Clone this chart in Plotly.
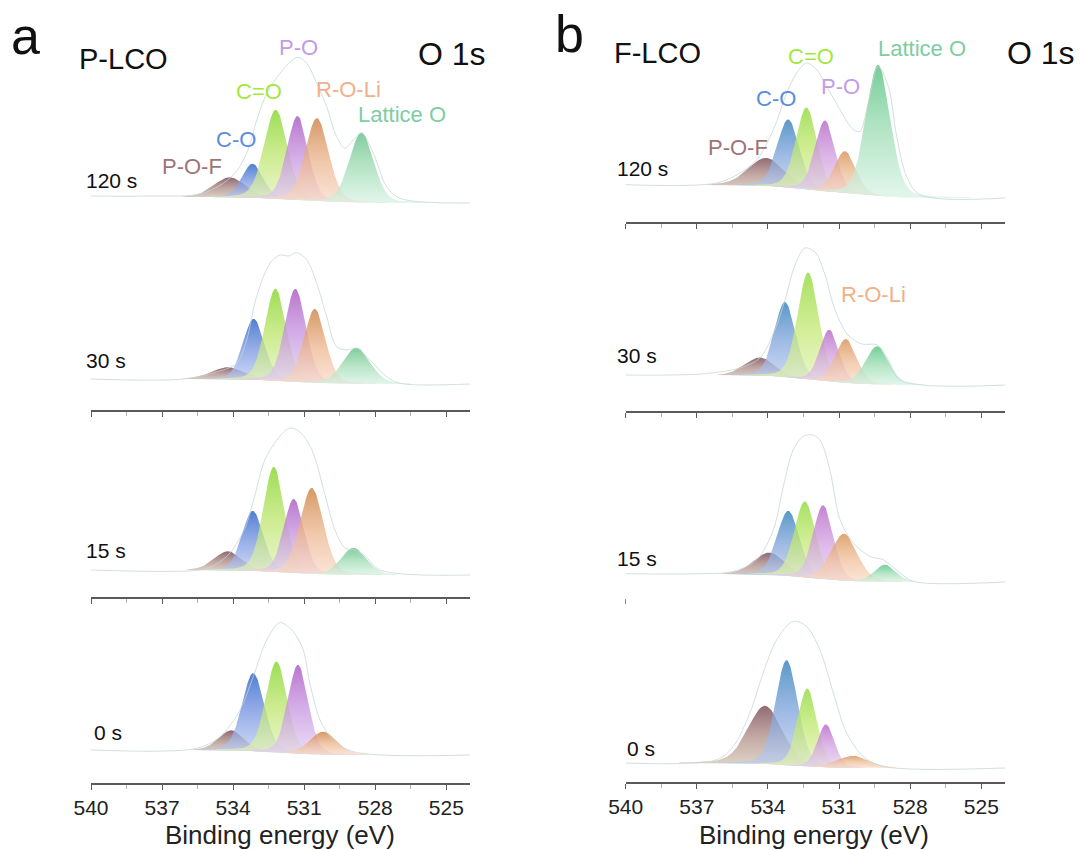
import numpy as np
import plotly.graph_objects as go

FONT = "Liberation Sans"
W, H = 1081, 850

PEAKS = ["P-O-F", "C-O", "C=O", "P-O", "R-O-Li", "Lattice O"]
TIMES = ["120 s", "30 s", "15 s", "0 s"]
TICKS = [540, 537, 534, 531, 528, 525]
MINOR_TICKS = [538.5, 535.5, 532.5, 529.5, 526.5]
LORENTZ_FRACTION = 0.2  # Gaussian-Lorentzian mixing of the fitted line shapes

# ---- P-LCO (panel a): fitted O 1s components, rows 120 s, 30 s, 15 s, 0 s ----
a_center = [
    [534.14, 533.18, 532.20, 531.28, 530.46, 528.58],
    [534.21, 533.13, 532.21, 531.37, 530.55, 528.79],
    [534.22, 533.17, 532.28, 531.44, 530.68, 528.91],
    [534.07, 533.15, 532.17, 531.26, 530.20, None],
]
a_height = [
    [20, 34, 89, 84, 83, 70],
    [12, 61, 92, 93, 74, 36],
    [19, 60, 105, 74, 86, 27],
    [20, 78, 91, 89, 23, None],
]
a_fwhm = [
    [1.55, 1.05, 1.15, 1.05, 1.15, 1.20],
    [1.65, 1.05, 1.05, 1.05, 1.05, 1.35],
    [1.35, 1.05, 1.05, 1.00, 1.15, 1.25],
    [1.25, 1.10, 1.05, 1.00, 1.35, None],
]
a_bg_step = [6, 5, 5, 5]

# measured envelopes (binding energy, intensity)
a_env_E = [
    [540.0, 537.51, 535.26, 533.99, 533.43, 533.00, 532.58, 532.02, 531.46, 531.25,
     530.89, 530.47, 530.05, 529.63, 529.28, 528.93, 528.57, 528.08, 527.52, 526.96, 524.0],
    [540.0, 536.24, 534.85, 533.85, 533.43, 533.01, 532.44, 532.02, 531.67, 531.32,
     530.89, 530.47, 530.05, 529.63, 529.21, 528.78, 528.22, 527.52, 526.96, 524.0],
    [540.0, 535.40, 534.77, 534.13, 533.50, 533.08, 532.66, 532.02, 531.60, 531.18,
     530.67, 530.12, 529.70, 529.28, 528.86, 528.43, 527.80, 524.0],
    [540.0, 535.54, 534.55, 533.71, 533.15, 532.58, 532.02, 531.46, 531.04, 530.76,
     530.33, 529.77, 528.93, 524.0],
]
a_env_I = [
    [7, 7, 9.7, 28, 49.7, 83, 109.7, 129.7, 143.7, 145.7,
     139.7, 119.7, 96.3, 66.3, 54.7, 63, 69.7, 49.7, 16.3, 4.7, 0],
    [5, 4.7, 11, 20.7, 44, 87.3, 121, 129, 128, 131.3,
     124, 100.7, 67.3, 37.3, 34, 35.7, 24, 7.3, 0.7, 0],
    [5, 5, 10, 22, 47, 80, 115, 139, 147, 143,
     125, 80, 45, 27, 25, 19, 5, 0],
    [5, 6.7, 18.3, 45, 78.3, 115, 132.3, 123.3, 105, 71.7,
     35, 15, 3.3, 0],
]

# ---- F-LCO (panel b) ----
b_center = [
    [534.08, 533.14, 532.37, 531.59, 530.75, 529.35],
    [534.34, 533.28, 532.30, 531.41, 530.71, 529.39],
    [533.94, 533.14, 532.44, 531.67, 530.79, 529.06],
    [534.12, 533.21, 532.34, 531.55, 530.40, None],
]
b_height = [
    [28, 68, 82, 71, 42, 131],
    [18, 75, 107, 52, 44, 38],
    [22, 65, 76, 74, 47, 17],
    [58, 105, 78, 43, 12, None],
]
b_fwhm = [
    [1.75, 1.10, 1.05, 1.00, 1.05, 1.20],
    [1.45, 1.05, 1.05, 0.95, 1.05, 1.15],
    [1.55, 1.10, 1.05, 1.00, 1.30, 1.05],
    [1.70, 1.10, 0.95, 0.85, 1.55, None],
]
b_bg_step = [13, 10, 8, 5]

b_env_E = [
    [540.0, 536.16, 535.18, 534.47, 533.77, 533.21, 532.79, 532.37, 531.94, 531.52,
     530.96, 530.40, 530.12, 529.77, 529.35, 528.92, 528.57, 528.15, 527.59, 524.0],
    [540.0, 536.87, 535.18, 534.34, 533.71, 533.28, 532.86, 532.44, 532.01, 531.59,
     531.17, 530.62, 530.03, 529.38, 528.92, 528.43, 524.0],
    [540.0, 536.87, 535.46, 534.47, 533.77, 533.35, 532.93, 532.51, 532.16, 531.81,
     531.39, 530.96, 530.40, 529.70, 529.14, 528.43, 527.87, 524.0],
    [540.0, 536.16, 535.46, 534.76, 534.20, 533.63, 532.93, 532.37, 531.81, 531.24,
     530.68, 529.98, 529.14, 524.0],
]
b_env_I = [
    [13.3, 15, 25, 38.3, 68.3, 105, 125, 135, 128.3, 111.6,
     88.3, 68.3, 66.6, 95, 131.6, 111.6, 61.6, 21.6, 3.3, 0],
    [10, 11, 17, 27, 55, 85, 120, 137, 133, 110,
     75, 50, 41, 40, 25, 5, 0],
    [8.3, 8.3, 10.6, 22.3, 52.3, 95.6, 132.3, 145.6, 147.3, 142.3,
     112.3, 62.3, 39, 25.6, 22.3, 9, 0.6, 0],
    [5, 8.3, 21.6, 55, 95, 128.3, 146.6, 141.6, 118.3, 75,
     35, 11.6, 1.6, 0],
]

# component colours
LABEL_COL = {
    "P-O-F": "#A07474", "C-O": "#5A8CDC", "C=O": "#A3E83F",
    "P-O": "#C39BE6", "R-O-Li": "#F0B08A", "Lattice O": "#7ECDA2",
}
# (top, middle, bottom) of each gradient fill
FILL_COL = {
    "a": {
        "P-O-F": ("rgba(120,78,88,0.85)", "rgba(170,135,130,0.75)", "rgba(215,200,180,0.75)"),
        "C-O": ("rgba(50,105,200,0.85)", "rgba(120,150,225,0.75)", "rgba(190,205,242,0.72)"),
        "C=O": ("rgba(138,215,55,0.85)", "rgba(190,230,110,0.75)", "rgba(228,242,185,0.72)"),
        "P-O": ("rgba(172,95,195,0.85)", "rgba(200,150,225,0.75)", "rgba(225,208,242,0.72)"),
        "R-O-Li": ("rgba(205,135,75,0.85)", "rgba(235,180,140,0.75)", "rgba(250,218,200,0.72)"),
        "Lattice O": ("rgba(105,195,140,0.85)", "rgba(160,220,180,0.75)", "rgba(215,242,228,0.72)"),
    },
    "b": {
        "P-O-F": ("rgba(125,80,92,0.85)", "rgba(175,140,135,0.75)", "rgba(215,202,180,0.75)"),
        "C-O": ("rgba(60,135,190,0.85)", "rgba(130,165,220,0.75)", "rgba(190,207,242,0.72)"),
        "C=O": ("rgba(150,220,70,0.85)", "rgba(195,232,115,0.75)", "rgba(230,242,185,0.72)"),
        "P-O": ("rgba(185,110,200,0.85)", "rgba(210,160,225,0.75)", "rgba(228,208,242,0.72)"),
        "R-O-Li": ("rgba(215,150,90,0.85)", "rgba(238,188,150,0.75)", "rgba(250,220,200,0.72)"),
        "Lattice O": ("rgba(100,200,140,0.9)", "rgba(160,222,182,0.78)", "rgba(215,243,228,0.72)"),
    },
}

# row placement (pixel positions of each row's axis line)
AXIS_Y = {"a": [226, 410, 597, 783], "b": [222, 411, 597, 782]}
BASE_OFF = {"a": [23, 26, 22, 28], "b": [24, 26, 15, 14]}
X_DOM = {"a": (91, 470), "b": (625.7, 1005)}
ROW_H = 186

E = np.linspace(524, 540, 1281)


def line_shape(c, h, w):
    g = np.exp(-4 * np.log(2) * (E - c) ** 2 / w ** 2)
    lo = 1.0 / (1.0 + 4 * (E - c) ** 2 / w ** 2)
    return h * ((1 - LORENTZ_FRACTION) * g + LORENTZ_FRACTION * lo)


fig = go.Figure()
layout = {}
idx = 0
panels = [
    ("a", a_center, a_height, a_fwhm, a_bg_step, a_env_E, a_env_I),
    ("b", b_center, b_height, b_fwhm, b_bg_step, b_env_E, b_env_I),
]
for key, cen, hei, fw, steps, envE, envI in panels:
    for r in range(4):
        idx += 1
        xa, ya = f"x{idx}", f"y{idx}"
        comps = []
        for k, name in enumerate(PEAKS):
            if cen[r][k] is None:
                continue
            comps.append((name, line_shape(cen[r][k], hei[r][k], fw[r][k])))
        total = sum(c for _, c in comps)
        bg = steps[r] * np.cumsum(total) / total.sum()

        for name, comp in comps:
            m = comp > 0.6
            xs = np.concatenate([E[m], E[m][::-1]])
            ys = np.concatenate([bg[m] + comp[m], bg[m][::-1]])
            top, mid, bottom = FILL_COL[key][name]
            fig.add_trace(go.Scatter(
                x=xs, y=ys, xaxis=xa, yaxis=ya, mode="lines",
                line=dict(width=0), fill="toself",
                fillgradient=dict(type="vertical",
                                  colorscale=[[0, bottom], [0.5, mid], [1, top]]),
                hoverinfo="skip", showlegend=False,
            ))
        fig.add_trace(go.Scatter(
            x=envE[r], y=envI[r], xaxis=xa, yaxis=ya, mode="lines",
            line=dict(color="rgba(195,212,214,0.75)", width=1, shape="spline", smoothing=0.9),
            hoverinfo="skip", showlegend=False,
        ))

        x0, x1 = X_DOM[key]
        ax_y = AXIS_Y[key][r]
        off = BASE_OFF[key][r]
        bottom_row = r == 3
        sfx = "" if idx == 1 else str(idx)
        layout["xaxis" + sfx] = dict(
            domain=[x0 / W, x1 / W], range=[540, 524], anchor=ya, automargin=False,
            showline=True, linecolor="#5a5a5a", linewidth=1.5,
            ticks="outside", ticklen=5, tickwidth=1.2, tickcolor="#5a5a5a",
            tickmode="array", tickvals=TICKS, ticktext=[str(t) for t in TICKS],
            showticklabels=bottom_row,
            tickfont=dict(family=FONT, size=21, color="#222"),
            minor=dict(tickmode="array", tickvals=MINOR_TICKS, ticks="outside",
                       ticklen=4, tickwidth=1, tickcolor="#b5b5b5"),
            showgrid=False, zeroline=False,
        )
        layout["yaxis" + sfx] = dict(
            domain=[1 - ax_y / H, 1 - (ax_y - ROW_H) / H], automargin=False,
            range=[-off, ROW_H - off], anchor=xa, visible=False,
        )

annotations = []


def txt(s, px, py, size, color="#111", anchor="center"):
    annotations.append(dict(
        text=s, x=px / W, y=1 - py / H, xref="paper", yref="paper",
        xanchor=anchor, yanchor="middle", showarrow=False,
        font=dict(family=FONT, size=size, color=color),
    ))


txt("a", 25, 36, 52)
txt("b", 569, 34, 52)
txt("P-LCO", 123, 59, 29)
txt("F-LCO", 657, 53, 29)
txt("O 1s", 452, 54, 32)
txt("O 1s", 1041, 53, 32)

time_pos = {"a": [(84, 180), (84, 360), (84, 550), (92, 732)],
            "b": [(615, 168), (615, 355), (615, 558), (625, 748)]}
for key in "ab":
    for t, (px, py) in zip(TIMES, time_pos[key]):
        txt(t, px, py, 21, anchor="left")

label_pos = {
    "a": {"P-O-F": (192, 166), "C-O": (236, 139), "C=O": (259, 91),
          "P-O": (298, 47), "R-O-Li": (348, 90), "Lattice O": (402, 115)},
    "b": {"P-O-F": (738, 147), "C-O": (776, 99), "C=O": (811, 56),
          "P-O": (840, 86), "R-O-Li": (874, 294), "Lattice O": (922, 48)},
}
for key in "ab":
    for name, (px, py) in label_pos[key].items():
        txt(name, px, py, 22, color=LABEL_COL[name])

txt("Binding energy (eV)", 280, 835, 26, color="#222")
txt("Binding energy (eV)", 814, 835, 26, color="#222")

fig.update_layout(
    width=W, height=H, margin=dict(l=0, r=0, t=0, b=0),
    paper_bgcolor="white", plot_bgcolor="white",
    annotations=annotations, showlegend=False, **layout,
)
fig.write_html("out.html")
